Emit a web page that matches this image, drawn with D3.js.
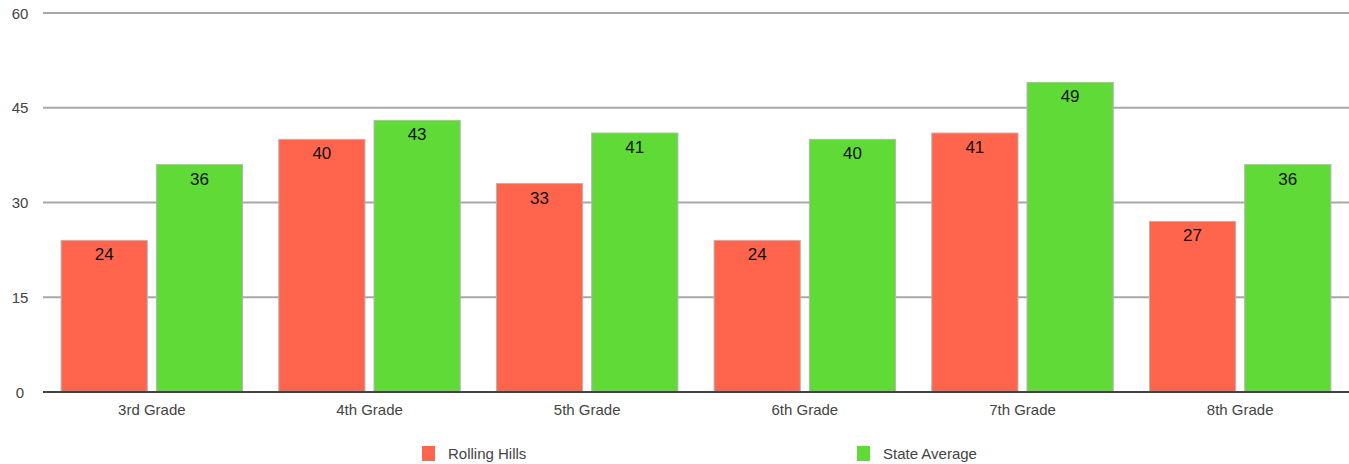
<!DOCTYPE html>
<html>
<head>
<meta charset="utf-8">
<script src="https://cdn.jsdelivr.net/npm/d3@7"></script>
<style>
  html, body { margin: 0; padding: 0; background: #fff; }
  svg { display: block; font-family: "Liberation Sans", Arial, Helvetica, sans-serif; }
</style>
</head>
<body>
<svg id="chart" width="1349" height="464"></svg>
<script>
// Grade-level scores: Rolling Hills vs. state average
const grades = ["3rd Grade", "4th Grade", "5th Grade", "6th Grade", "7th Grade", "8th Grade"];
const rollingHills = [24, 40, 33, 24, 41, 27];
const stateAverage = [36, 43, 41, 40, 49, 36];
const seriesNames = ["Rolling Hills", "State Average"];
const yTicks = [0, 15, 30, 45, 60];

const colors = ["#ff644d", "#5fda37"];

const width = 1349, height = 464;
const margin = { left: 43, right: 0, top: 13, bottom: 72 };

const svg = d3.select("#chart");

const x0 = d3.scaleBand()
  .domain(grades)
  .range([margin.left, width - margin.right])
  .paddingInner(0)
  .paddingOuter(0);

const x1 = d3.scaleBand()
  .domain(seriesNames)
  .range([0, x0.bandwidth()])
  .paddingInner(0.095)
  .paddingOuter(0.19);

const y = d3.scaleLinear()
  .domain([0, 60])
  .range([height - margin.bottom, margin.top]);

// Horizontal gridlines
svg.append("g")
  .selectAll("line")
  .data(yTicks.filter(d => d !== 0))
  .join("line")
  .attr("x1", margin.left)
  .attr("x2", width)
  .attr("y1", d => y(d))
  .attr("y2", d => y(d))
  .attr("stroke", "#a8a8a8")
  .attr("stroke-width", 2);

// Y tick labels
svg.append("g")
  .selectAll("text")
  .data(yTicks)
  .join("text")
  .attr("x", 20)
  .attr("y", d => y(d) + 5.5)
  .attr("text-anchor", "middle")
  .attr("font-size", 15)
  .attr("fill", "#444")
  .text(d => d);

const rows = grades.map((g, i) => ({ grade: g, values: [rollingHills[i], stateAverage[i]] }));

const groups = svg.append("g")
  .selectAll("g")
  .data(rows)
  .join("g")
  .attr("transform", d => `translate(${x0(d.grade)},0)`);

const bars = groups.selectAll("g.bar")
  .data(d => d.values.map((v, k) => ({ name: seriesNames[k], value: v, k })))
  .join("g")
  .attr("class", "bar");

bars.append("rect")
  .attr("x", d => x1(d.name))
  .attr("width", x1.bandwidth())
  .attr("y", d => y(d.value))
  .attr("height", d => y(0) - y(d.value))
  .attr("fill", d => colors[d.k])
  .attr("stroke", "#b5b5b5")
  .attr("stroke-width", 1);

bars.append("text")
  .attr("x", d => x1(d.name) + x1.bandwidth() / 2)
  .attr("y", d => y(d.value) + 20)
  .attr("text-anchor", "middle")
  .attr("font-size", 17)
  .attr("fill", "#111")
  .text(d => d.value);

// Baseline
svg.append("line")
  .attr("x1", margin.left)
  .attr("x2", width)
  .attr("y1", y(0))
  .attr("y2", y(0))
  .attr("stroke", "#444")
  .attr("stroke-width", 2);

// Category labels
svg.append("g")
  .selectAll("text")
  .data(grades)
  .join("text")
  .attr("x", d => x0(d) + x0.bandwidth() / 2)
  .attr("y", y(0) + 23)
  .attr("text-anchor", "middle")
  .attr("font-size", 15)
  .attr("fill", "#444")
  .text(d => d);

// Legend
const legendX = [422, 857];
const legend = svg.append("g")
  .selectAll("g")
  .data(seriesNames)
  .join("g")
  .attr("transform", (d, i) => `translate(${legendX[i]},446)`);

legend.append("rect")
  .attr("width", 13)
  .attr("height", 15)
  .attr("fill", (d, i) => colors[i]);

legend.append("text")
  .attr("x", 26)
  .attr("y", 13)
  .attr("font-size", 15)
  .attr("fill", "#444")
  .text(d => d);
</script>
</body>
</html>
